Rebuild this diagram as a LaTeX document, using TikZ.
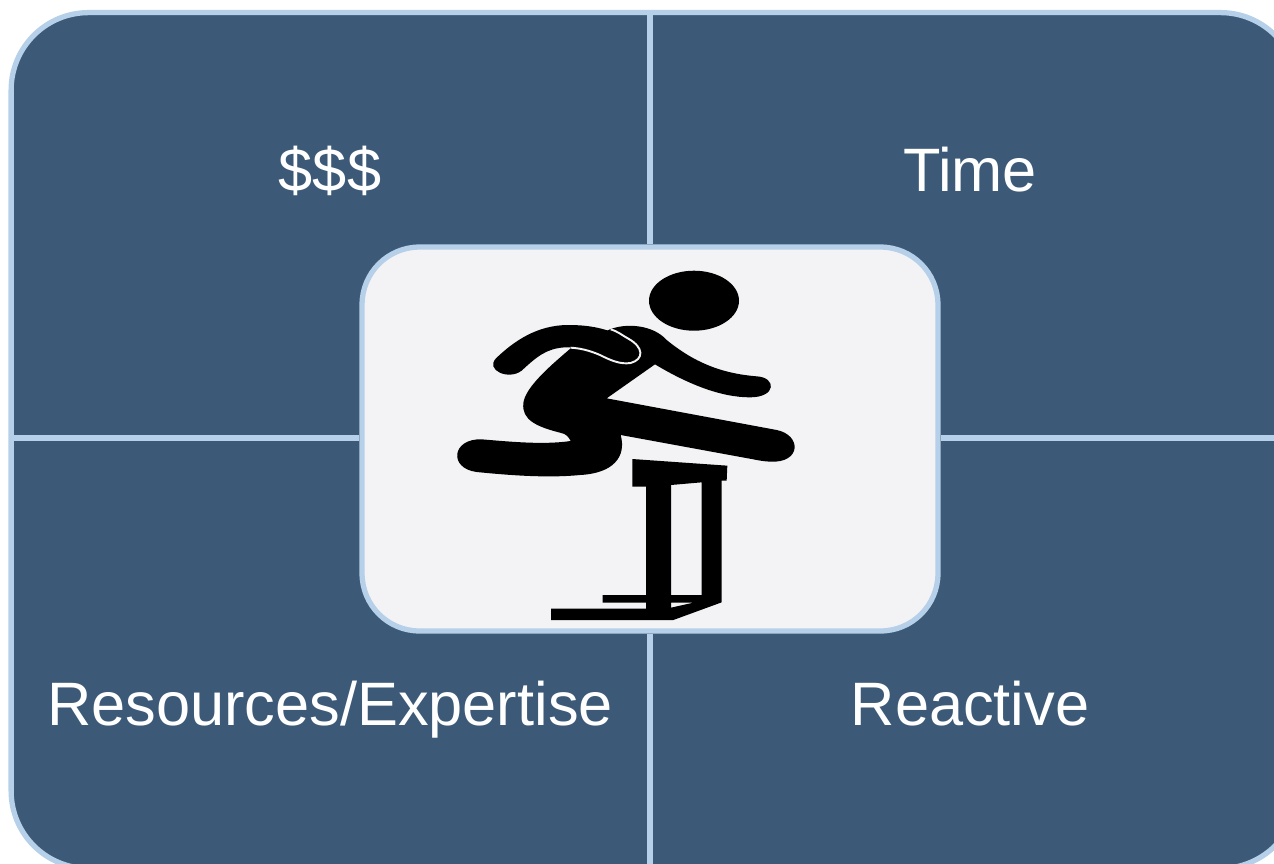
\documentclass[tikz,border=0pt]{standalone}
\usepackage{fontspec}
\setmainfont{Liberation Sans}
\definecolor{panel}{HTML}{3C5A78}
\definecolor{edge}{HTML}{B5D0E8}
\definecolor{card}{HTML}{F3F3F6}
\tikzset{
  divider/.style={draw=edge,line width=3pt},
  framebox/.style={draw=edge,line width=3pt,inner sep=0pt},
  label/.style={text=white,font=\fontsize{34.9}{38}\selectfont,anchor=base,inner sep=0pt},
  ink/.style={fill=black,draw=none}
}
\begin{document}
\begin{tikzpicture}[x=0.02cm,y=-0.02cm]
\useasboundingbox (0,0) rectangle (1274,863);
\clip (0,0) rectangle (1274,863);
\node[framebox,fill=panel,rounded corners=1.55cm,minimum width=25.74cm,minimum height=17.12cm] (outer) at (654.5,440.5) {};
\coordinate (vtop) at (650,12.5);
\coordinate (vbot) at (650,868);
\coordinate (hleft) at (10.5,438);
\coordinate (hright) at (1298,438);
\node[framebox,fill=card,rounded corners=1.15cm,minimum width=11.52cm,minimum height=7.68cm] (card) at (650,439) {};
\draw[divider] (vtop) -- (card.north -| vtop);
\draw[divider] (card.south -| vbot) -- (vbot);
\draw[divider] (hleft) -- (card.west |- hleft);
\draw[divider] (card.east |- hright) -- (hright);
\node[label] (money) at (330,191) {\$\$\$};
\node[label] (time) at (970,191) {Time};
\node[label] (resources) at (330,725) {Resources/Expertise};
\node[label] (reactive) at (970,725) {Reactive};
% head
\fill[ink] (694,300.7) ellipse [x radius=45, y radius=30];
% runner
\begin{scope}[shift={(440,260)},x=0.02cm/3,y=-0.02cm/3]
\fill[ink] (510,208) .. controls (560,188) and (640,195) .. (680,240)
  .. controls (760,305) and (840,340) .. (950,349)
  .. controls (1010,352) and (1010,412) .. (930,412)
  .. controls (840,412) and (740,370) .. (645,313)
  -- (500,415) -- (1010,510)
  .. controls (1085,525) and (1085,610) .. (990,605)
  .. controls (970,604) and (955,601) .. (940,598)
  -- (542,525)
  .. controls (560,590) and (520,640) .. (420,645)
  .. controls (320,655) and (200,645) .. (110,636)
  .. controls (25,625) and (35,535) .. (125,538)
  .. controls (210,545) and (310,555) .. (392,543)
  .. controls (385,530) and (380,522) .. (360,518)
  .. controls (290,500) and (245,480) .. (250,430)
  .. controls (255,380) and (340,310) .. (392,265)
  -- (510,208) -- cycle;
\fill[ink] (168,295) .. controls (220,245) and (290,195) .. (385,195)
  .. controls (450,195) and (500,205) .. (560,235)
  .. controls (610,262) and (615,295) .. (575,308)
  .. controls (540,315) and (510,300) .. (480,285)
  .. controls (440,268) and (410,262) .. (375,262)
  .. controls (320,265) and (290,290) .. (245,332)
  .. controls (205,362) and (135,330) .. (168,295) -- cycle;
\draw[card,line width=1.1pt] (512,208) .. controls (535,215) and (545,225) .. (565,236)
  .. controls (612,262) and (612,298) .. (572,309)
  .. controls (540,314) and (510,300) .. (480,285)
  .. controls (445,270) and (420,265) .. (392,263);
\end{scope}
% hurdle
\begin{scope}[shift={(530,450)},x=0.02cm/3,y=-0.02cm/3]
\fill[ink,even odd rule] (307,27) -- (592,47) -- (590,92) -- (575,92) -- (575,457) -- (430,510) -- (63,510) -- (63,476) -- (348,476) -- (348,458) -- (218,458) -- (218,435) -- (348,435) -- (348,110) -- (307,110) -- cycle
  (423,105) -- (515,97) -- (515,435) -- (423,435) -- cycle
  (423,458) -- (490,458) -- (423,473) -- cycle;
\end{scope}
\end{tikzpicture}
\end{document}
